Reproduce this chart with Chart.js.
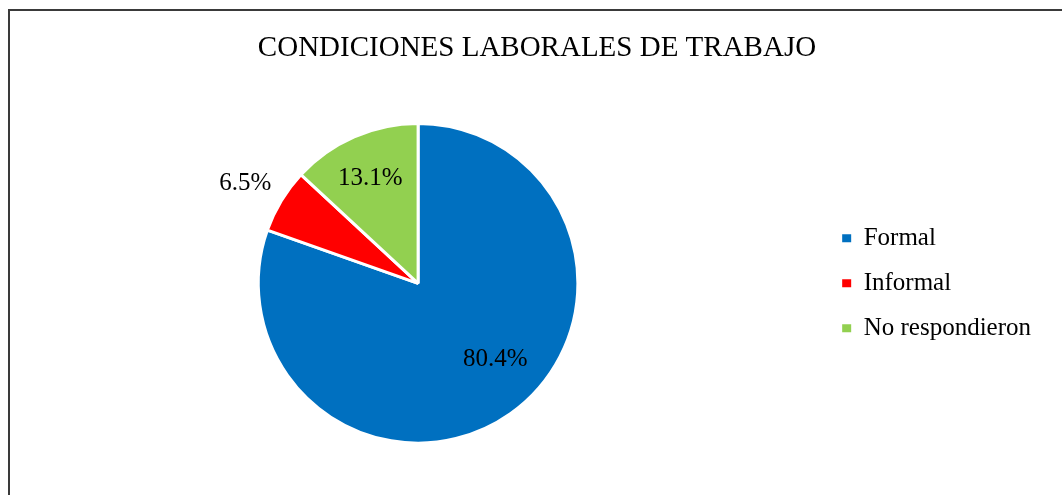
<!DOCTYPE html>
<html>
<head>
<meta charset="utf-8">
<script src="https://cdn.jsdelivr.net/npm/chart.js@4/dist/chart.umd.min.js"></script>
<style>
  body { margin: 0; background: #fff; overflow: hidden; }
  #marco {
    position: absolute; left: 8px; top: 9px; width: 1200px; height: 600px;
    border-left: 2px solid #3a3a3a; border-top: 2px solid #3a3a3a;
  }
  #grafico { position: absolute; left: 0; top: 0; }
</style>
</head>
<body>
<div id="marco"></div>
<canvas id="grafico" width="1062" height="495"></canvas>
<script>
const titulo = "CONDICIONES LABORALES DE TRABAJO";
const categorias = ["Formal", "Informal", "No respondieron"];
const porcentajes = [80.4, 6.5, 13.1];
const etiquetas = ["80.4%", "6.5%", "13.1%"];
const colores = ["#0070C0", "#FF0000", "#92D050"];

Chart.defaults.font.family = "'Liberation Serif', 'Times New Roman', serif";
Chart.defaults.color = "#000";

// posicion de cada etiqueta: fraccion del radio y giro en grados
const posEtiquetas = [
    { r: 0.68, giro: -10 },
    { r: 1.25, giro: -1 },
    { r: 0.72, giro: -1 }
];

const etiquetasPlugin = {
    id: "etiquetasPie",
    afterLayout(chart) {
        // el titulo se centra sobre todo el marco, no solo hasta la leyenda
        const t = chart.titleBlock;
        if (t) {
            t.left = 12;
            t.right = 1062;
        }
    },
    afterDatasetsDraw(chart) {
        const ctx = chart.ctx;
        const arcos = chart.getDatasetMeta(0).data;
        ctx.save();
        ctx.font = "25px 'Liberation Serif', 'Times New Roman', serif";
        ctx.fillStyle = "#000";
        ctx.textAlign = "center";
        ctx.textBaseline = "middle";
        arcos.forEach(function(arco, i) {
            const p = arco.getProps(["x", "y", "startAngle", "endAngle", "outerRadius"], true);
            const ang = (p.startAngle + p.endAngle) / 2 + posEtiquetas[i].giro * Math.PI / 180;
            const r = p.outerRadius * posEtiquetas[i].r;
            ctx.fillText(etiquetas[i], p.x + Math.cos(ang) * r, p.y + Math.sin(ang) * r);
        });
        ctx.restore();
    }
};

const baseLabels = Chart.overrides.doughnut.plugins.legend.labels.generateLabels;

const grafico = document.getElementById("grafico").getContext("2d");
const chart = new Chart(grafico, {
    type: "pie",
    data: {
        labels: categorias,
        datasets: [{
            data: porcentajes,
            backgroundColor: colores,
            borderColor: "#fff",
            borderWidth: 3
        }]
    },
    options: {
        responsive: false,
        animation: false,
        devicePixelRatio: 1,
        layout: { padding: { top: 0, bottom: 50.4, left: 14, right: 21 } },
        plugins: {
            title: {
                display: true,
                text: titulo,
                color: "#000",
                font: { size: 29, weight: "normal" },
                padding: { top: 30.5, bottom: 56.7 }
            },
            legend: {
                position: "right",
                fullSize: false,
                labels: {
                    boxWidth: 9,
                    boxHeight: 8,
                    padding: 20,
                    color: "#000",
                    font: { size: 25 },
                    generateLabels: function(c) {
                        return baseLabels(c).map(function(l) {
                            l.lineWidth = 0;
                            return l;
                        });
                    }
                }
            },
            tooltip: { enabled: false }
        }
    },
    plugins: [etiquetasPlugin]
});
</script>
</body>
</html>
